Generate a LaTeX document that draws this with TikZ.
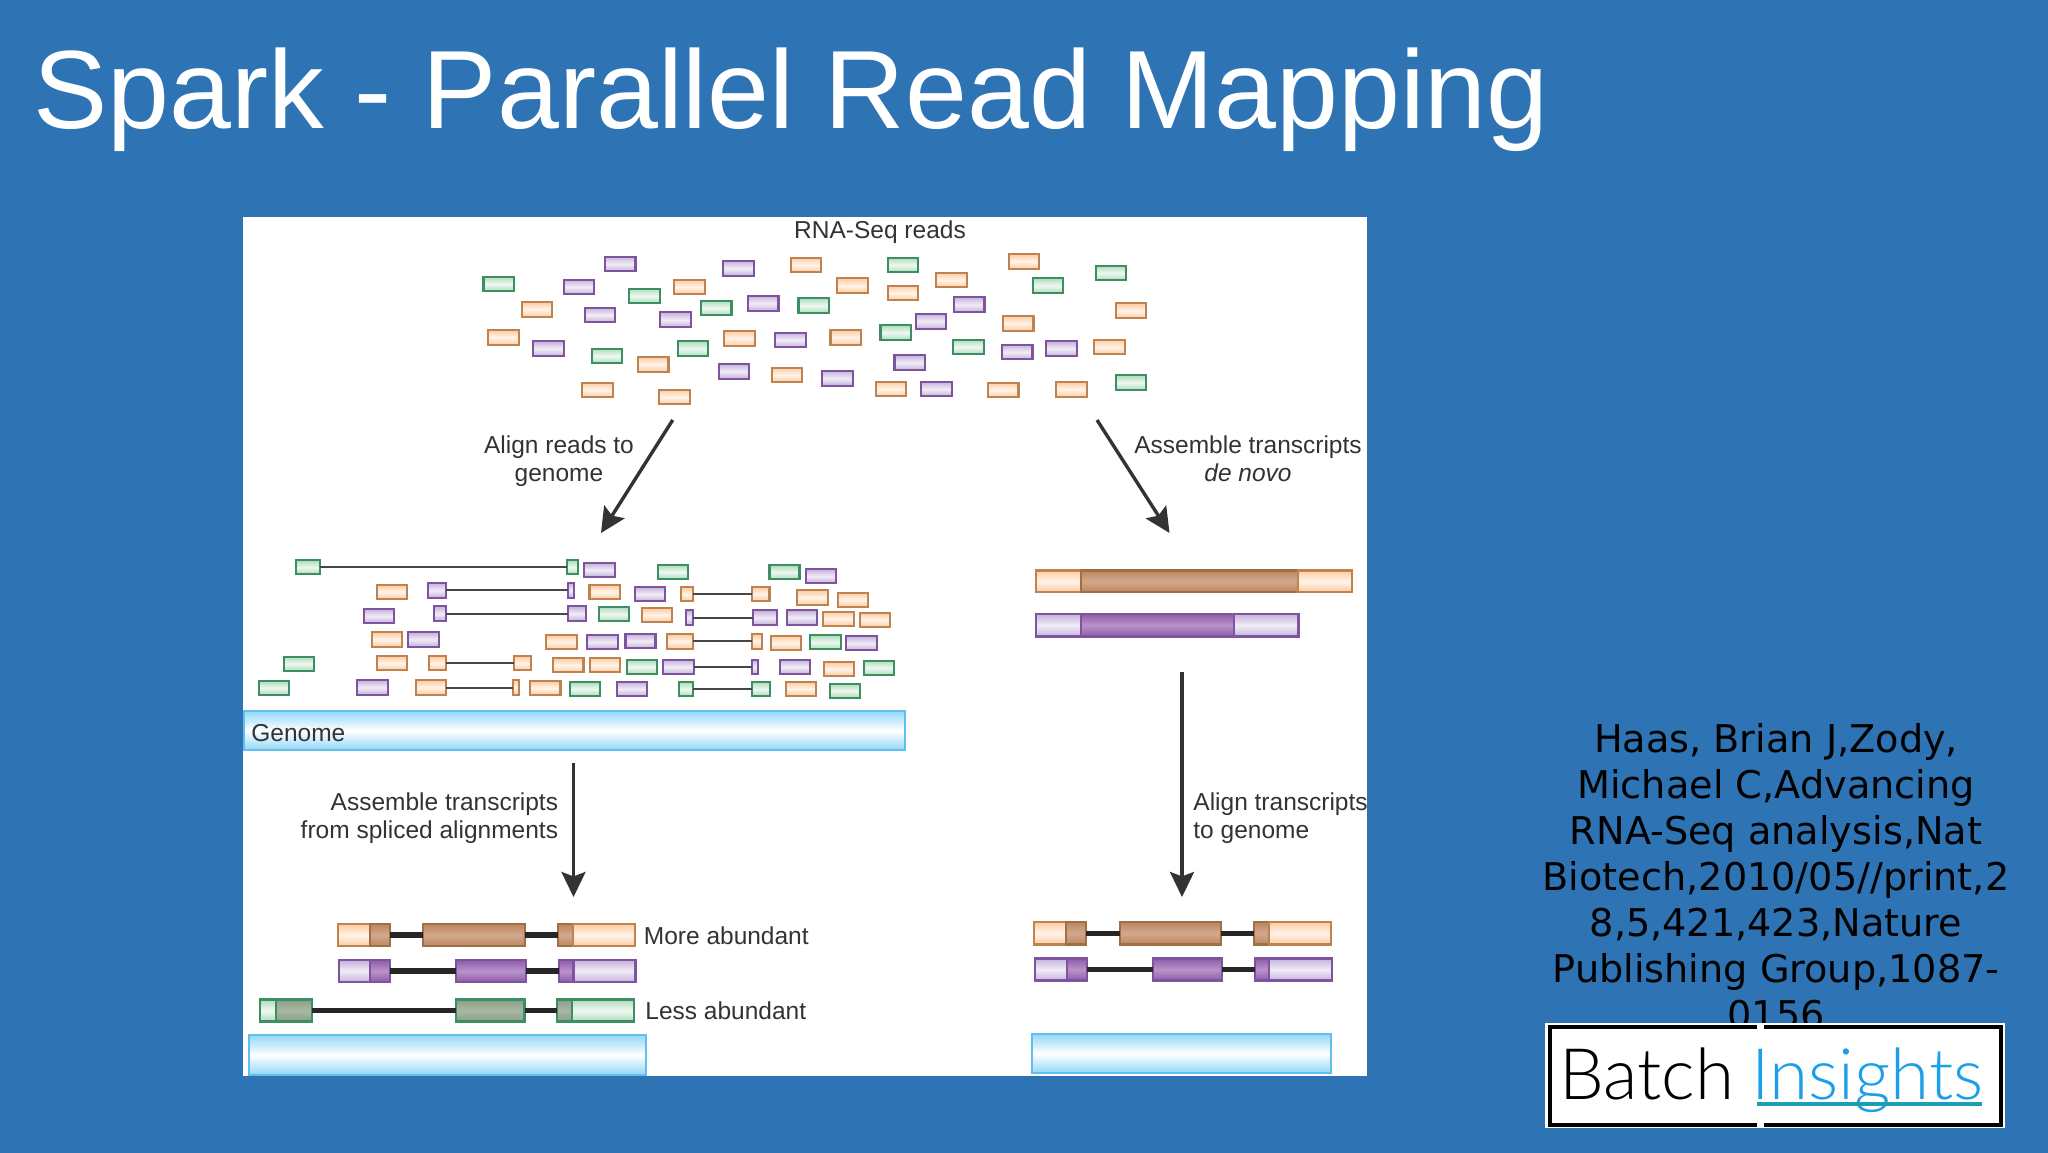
\documentclass[tikz,border=0pt]{standalone}
\usepackage{fontspec}
\usetikzlibrary{arrows.meta}
\setmainfont{Liberation Sans}
\newfontfamily\dejavu{DejaVu Sans}
\newfontfamily\logofont[UprightFont=* Light]{Lato}
\definecolor{bg}{HTML}{2E74B5}
\definecolor{ink}{HTML}{333333}
\definecolor{obd}{HTML}{BE8350}
\definecolor{pbd}{HTML}{7E549F}
\definecolor{gbd}{HTML}{3B8F63}
\definecolor{old}{HTML}{FFCB9F}
\definecolor{pld}{HTML}{C4B3DC}
\definecolor{gld}{HTML}{B0DCBC}
\definecolor{olm}{HTML}{FFF4EA}
\definecolor{plm}{HTML}{F1ECF6}
\definecolor{glm}{HTML}{EEF8F0}
\definecolor{odk}{HTML}{BC8660}
\definecolor{odm}{HTML}{D2A98C}
\definecolor{pdk}{HTML}{8F5BA8}
\definecolor{pdm}{HTML}{B993CB}
\definecolor{gdk}{HTML}{8A9F88}
\definecolor{gdm}{HTML}{A9B8A3}
\definecolor{bluebd}{HTML}{62BEEC}
\definecolor{bluef}{HTML}{92D8F8}
\definecolor{insight}{HTML}{1A9FE8}
\definecolor{teal}{HTML}{1E9DB5}
\tikzset{
  box/.style={inner sep=0pt,outer sep=0pt,line width=1.05pt},
  O/.style={box,draw=obd,shade,top color=old,bottom color=old,middle color=olm},
  P/.style={box,draw=pbd,shade,top color=pld,bottom color=pld,middle color=plm},
  G/.style={box,draw=gbd,shade,top color=gld,bottom color=gld,middle color=glm},
  OD/.style={box,draw=obd!85!black,shade,top color=odk,bottom color=odk,middle color=odm},
  PD/.style={box,draw=pbd,shade,top color=pdk,bottom color=pdk,middle color=pdm},
  GD/.style={box,draw=gbd,shade,top color=gdk,bottom color=gdk,middle color=gdm},
  bluebar/.style={box,draw=bluebd,line width=1pt,shade,top color=bluef,bottom color=bluef,middle color=white},
  readtile/.style={minimum width=15.2pt,minimum height=7.4pt},
  skip/.style={draw=ink!90,line width=1pt},
  intron/.style={draw=black!85,line width=2.6pt},
  flow/.style={draw=ink,line width=1.7pt,-{Stealth[length=12.5pt,width=12pt,inset=2.2pt]}},
  lab/.style={text=ink,inner sep=0pt,font=\fontsize{12.25}{14}\selectfont},
}
% name, style, then edges in pixels
\newcommand{\seg}[6]{\node[#2,minimum width={(#4-#3)*0.5pt},minimum height={(#6-#5)*0.5pt}] (#1) at ({(#3+#4)/2},{(#5+#6)/2}) {};}
% spliced/aligned read: edges in crop coordinates
\newcommand{\rd}[6]{\seg{#1}{#2}{(240+#3/2.306+0.4)}{(240+#4/2.306-0.4)}{(540+#5/3+0.4)}{(540+#6/3-0.4)}}
\begin{document}
\begin{tikzpicture}[x=0.5pt,y=-0.5pt]
\useasboundingbox (0,0) rectangle (2048,1152);
\fill[bg] (-5,-5) rectangle (2053,1157);
\fill[white] (243,217) rectangle (1367,1076);
\node[anchor=base west,inner sep=0pt,text=white,font=\fontsize{55.65}{60}\selectfont] (title) at (33,128.5) {Spark - Parallel Read Mapping};

\node[lab] (rnaseq) at (880,232.5) {RNA-Seq reads};
% free reads
\foreach \zx/\zy [count=\n] in {372/162,616/175,287/231,330/315,486/329,667/280,1092/284,1013/334,224/416,723/390,1191/426,1282/416,969/458,606/484,820/505,1024/537}
  \node[P,readtile] (pr\n) at ({440+\zx/2.063},{210+\zy/3}) {};
\foreach \zx/\zy [count=\n] in {755/165,1205/154,1055/210,851/227,955/249,515/231,200/298,1426/302,1193/340,131/382,618/385,837/382,1381/411,440/463,716/495,325/540,484/561,930/537,1162/540,1303/538}
  \node[O,readtile] (or\n) at ({440+\zx/2.063},{210+\zy/3}) {};
\foreach \zx/\zy [count=\n] in {121/222,955/165,1384/189,1254/227,422/258,570/294,771/287,940/368,1090/411,345/438,522/416,1426/518}
  \node[G,readtile] (gr\n) at ({440+\zx/2.063},{210+\zy/3}) {};

% arrows from the reads
\coordinate (a1s) at (672.7,420); \coordinate (a1e) at (601,533);
\coordinate (a2s) at (1097,420); \coordinate (a2e) at (1169.5,533);
\draw[flow] (a1s) -- (a1e);
\draw[flow] (a2s) -- (a2e);
\node[lab,align=center] (alignreads) at (559,461.5) {Align reads to\\genome};
\node[lab,align=center] (assembledn) at (1248,458.5) {Assemble transcripts\\\itshape de novo};

% aligned reads, row 1
\rd{a1}{G}{129}{186}{60}{104}\rd{a2}{G}{754}{780}{60}{104}\rd{a3}{P}{793}{865}{68}{112}\rd{a4}{G}{963}{1035}{74}{118}\rd{a5}{G}{1220}{1291}{75}{119}\rd{a6}{P}{1304}{1376}{87}{130}
% row 2
\rd{b1}{O}{316}{387}{134}{178}\rd{b2}{P}{433}{475}{128}{174}\rd{b3}{P}{756}{771}{128}{174}\rd{b4}{O}{805}{877}{134}{178}\rd{b5}{P}{910}{981}{140}{185}\rd{b6}{O}{1017}{1046}{140}{185}\rd{b7}{O}{1179}{1222}{140}{185}\rd{b8}{O}{1284}{1356}{150}{196}\rd{b9}{O}{1379}{1450}{157}{201}
% row 3
\rd{c1}{P}{286}{357}{206}{250}\rd{c2}{P}{446}{475}{198}{244}\rd{c3}{P}{755}{798}{198}{244}\rd{c4}{G}{826}{897}{200}{245}\rd{c5}{O}{927}{998}{203}{247}\rd{c6}{P}{1028}{1045}{210}{256}\rd{c7}{P}{1182}{1239}{210}{256}\rd{c8}{P}{1260}{1332}{210}{255}\rd{c9}{O}{1344}{1416}{214}{258}\rd{c10}{O}{1428}{1500}{217}{262}
% row 4
\rd{d1}{O}{303}{375}{276}{321}\rd{d2}{P}{387}{459}{276}{321}\rd{d3}{O}{705}{777}{284}{328}\rd{d4}{P}{800}{872}{284}{328}\rd{d5}{P}{888}{959}{281}{326}\rd{d6}{O}{983}{1045}{281}{327}\rd{d7}{O}{1180}{1204}{281}{327}\rd{d8}{O}{1224}{1295}{287}{330}\rd{d9}{G}{1314}{1386}{285}{329}\rd{d10}{P}{1397}{1469}{288}{332}
% row 5
\rd{e1}{G}{100}{172}{349}{394}\rd{e2}{O}{316}{387}{348}{392}\rd{e3}{O}{434}{476}{348}{392}\rd{e4}{O}{630}{672}{348}{392}\rd{e5}{O}{721}{793}{353}{398}\rd{e6}{O}{806}{878}{352}{398}\rd{e7}{G}{891}{963}{358}{404}\rd{e8}{P}{975}{1048}{358}{404}\rd{e9}{P}{1180}{1195}{358}{404}\rd{e10}{P}{1244}{1316}{358}{403}\rd{e11}{O}{1345}{1416}{365}{409}\rd{e12}{G}{1437}{1508}{361}{406}
% row 6
\rd{f1}{G}{42}{113}{422}{465}\rd{f2}{P}{269}{342}{420}{465}\rd{f3}{O}{404}{475}{420}{465}\rd{f4}{O}{628}{645}{420}{465}\rd{f5}{O}{668}{740}{422}{466}\rd{f6}{G}{760}{831}{425}{469}\rd{f7}{P}{869}{940}{424}{469}\rd{f8}{G}{1011}{1046}{425}{470}\rd{f9}{G}{1180}{1223}{425}{470}\rd{f10}{O}{1258}{1329}{424}{469}\rd{f11}{G}{1359}{1431}{430}{474}
% spliced reads
\foreach \p/\q in {a1/a2,b2/b3,b6/b7,c2/c3,c6/c7,d6/d7,e3/e4,e8/e9,f3/f4,f8/f9}
  \draw[skip] (\p.east) -- (\q.west);

% genome bars
\seg{genomebar}{bluebar}{244}{905}{711}{750}
\node[lab,anchor=base west] (genome) at (251,741) {Genome};
\seg{bar2}{bluebar}{249}{646}{1035}{1075}
\seg{bar3}{bluebar}{1032}{1331}{1034}{1073}

% left lower arrow
\coordinate (a3s) at (573.5,763); \coordinate (a3e) at (573.5,897);
\draw[flow] (a3s) -- (a3e);
\node[lab,align=right,anchor=east] (asmspl) at (558.5,818.5) {Assemble transcripts\\from spliced alignments};

% left gene models
\seg{m1}{O}{338}{369.7}{924}{946}\seg{m2}{OD}{369.7}{389.6}{924}{946}\seg{m3}{OD}{423.4}{525.3}{924}{946}\seg{m4}{OD}{557.9}{572.6}{924}{946}\seg{m5}{O}{572.6}{635}{924}{946}
\seg{n1}{P}{338.9}{370.1}{960}{982}\seg{n2}{PD}{370.1}{390}{960}{982}\seg{n3}{PD}{456.4}{526.2}{960}{982}\seg{n4}{PD}{559.2}{573.5}{960}{982}\seg{n5}{P}{573.5}{635.5}{960}{982}
\seg{k1}{G}{260.4}{275.6}{999.5}{1021.5}\seg{k2}{GD}{275.6}{312.4}{999.5}{1021.5}\seg{k3}{GD}{456.4}{524.5}{999.5}{1021.5}\seg{k4}{GD}{557.4}{572.2}{999.5}{1021.5}\seg{k5}{G}{572.2}{634.2}{999.5}{1021.5}
\foreach \p/\q in {m2/m3,m3/m4,n2/n3,n3/n4,k2/k3,k3/k4}
  \draw[intron] (\p.east) -- (\q.west);
\node[lab,anchor=west] (more) at (643.5,936) {More abundant};
\node[lab,anchor=west] (less) at (645,1011) {Less abundant};

% right column: assembled transcripts
\seg{t1}{O}{1036}{1081}{570.5}{592}\seg{t2}{OD}{1081}{1298}{570.5}{592}\seg{t3}{O}{1298}{1352}{570.5}{592}
\seg{u1}{P}{1036}{1081}{614}{636.5}\seg{u2}{PD}{1081}{1234}{614}{636.5}\seg{u3}{P}{1234}{1298.5}{614}{636.5}
\coordinate (a4s) at (1182,672); \coordinate (a4e) at (1182,897);
\draw[flow] (a4s) -- (a4e);
\node[lab,align=left,anchor=west] (aligntr) at (1193,818.5) {Align transcripts\\to genome};

% right gene models
\seg{v1}{O}{1034}{1066}{922}{944.5}\seg{v2}{OD}{1066}{1086}{922}{944.5}\seg{v3}{OD}{1120}{1221}{922}{944.5}\seg{v4}{OD}{1254}{1268.7}{922}{944.5}\seg{v5}{O}{1268.7}{1331.3}{922}{944.5}
\seg{w1}{P}{1034.7}{1067.3}{958.5}{980.5}\seg{w2}{PD}{1067.3}{1086.7}{958.5}{980.5}\seg{w3}{PD}{1153.3}{1222.3}{958.5}{980.5}\seg{w4}{PD}{1255}{1269.3}{958.5}{980.5}\seg{w5}{P}{1269.3}{1332.3}{958.5}{980.5}
\foreach \p/\q in {v2/v3,v3/v4,w2/w3,w3/w4}
  \draw[intron] (\p.east) -- (\q.west);

% citation
\node[text=black,inner sep=0pt,align=center,font=\dejavu\fontsize{19.1}{23}\selectfont] (cite) at (1776,876.5)
  {Haas, Brian J,Zody,\\Michael C,Advancing\\RNA-Seq analysis,Nat\\Biotech,2010/05//print,2\\8,5,421,423,Nature\\Publishing Group,1087-\\0156};

% logo
\fill[white] (1545,1023.3) rectangle (2005,1127.7);
\draw[black,line width=2pt] (1550,1027) rectangle (2001,1125);
\fill[white] (1756.7,1023.3) rectangle (1764,1030);
\fill[white] (1756.7,1122) rectangle (1764,1127.7);
\node[anchor=base west,inner sep=0pt,text=black,font=\logofont\fontsize{35.5}{40}\selectfont] (batch) at (1559,1099) {Batch};
\node[anchor=base west,inner sep=0pt,text=insight,font=\logofont\fontsize{35.5}{40}\selectfont] (insights) at (1751,1099) {Insights};
\fill[teal] (1757,1102.3) rectangle (1982,1106);
\end{tikzpicture}
\end{document}
